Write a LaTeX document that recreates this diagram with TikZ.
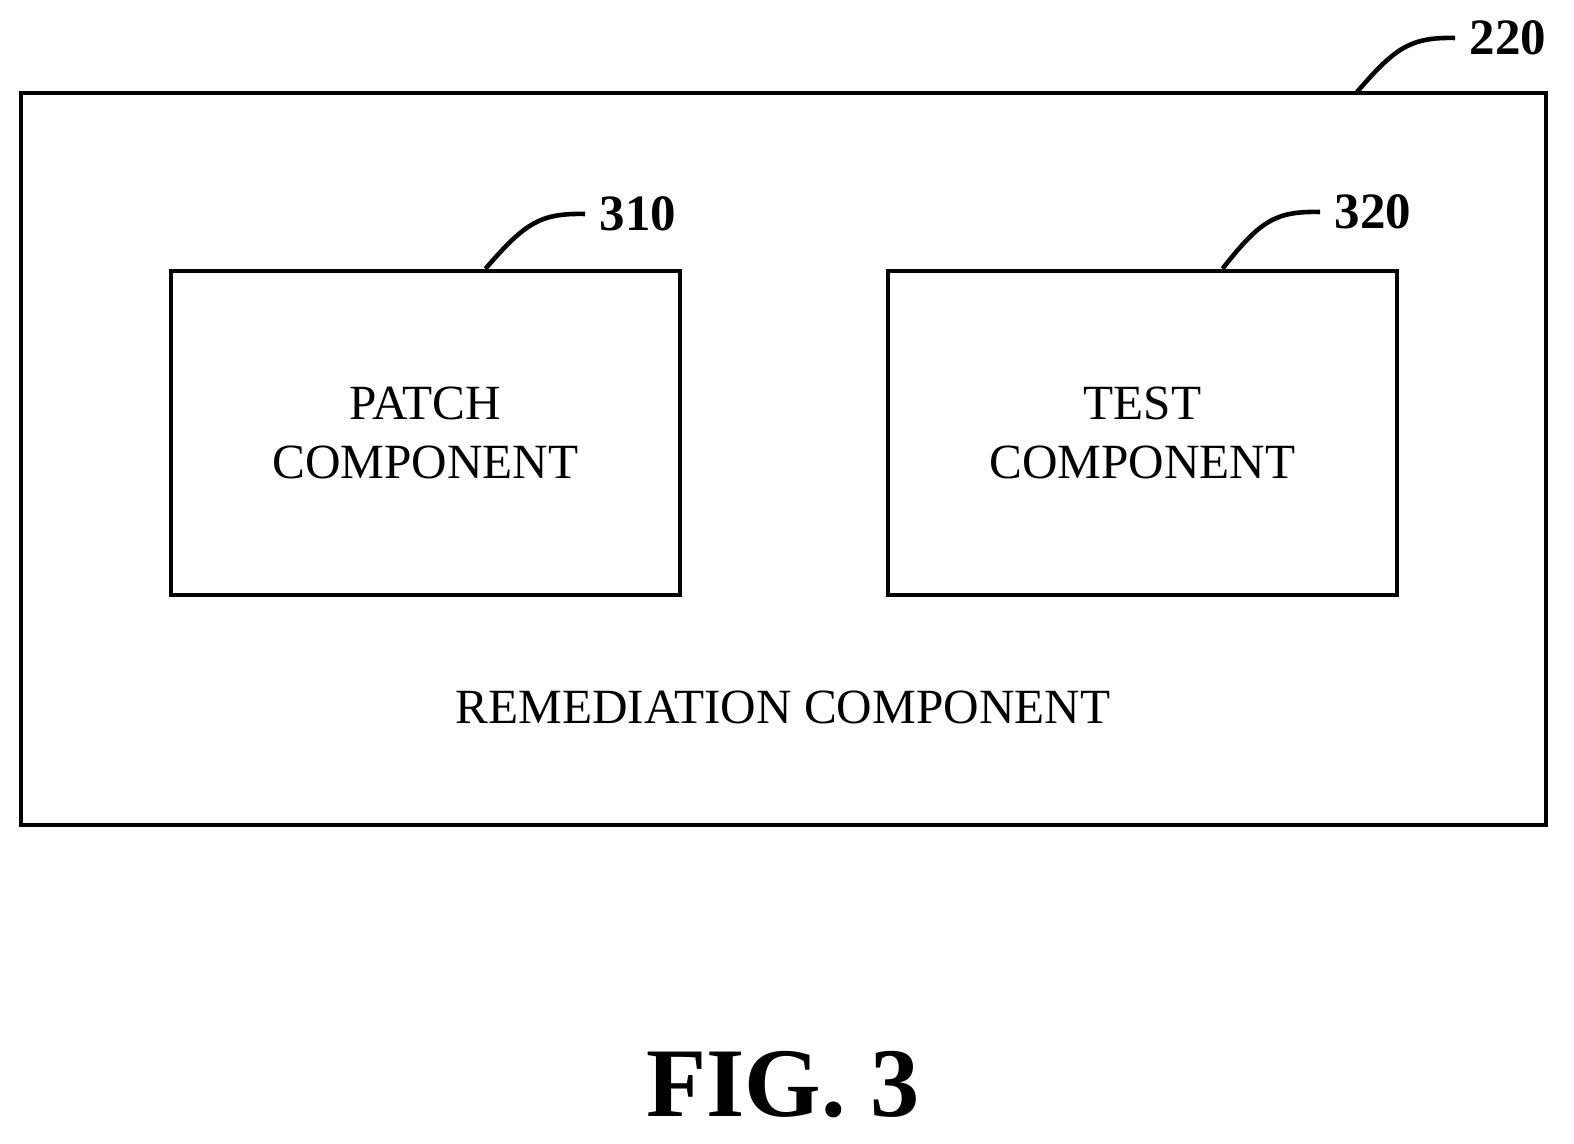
\documentclass[tikz,border=0pt]{standalone}
\usepackage{fontspec}
\setmainfont{Liberation Serif}
\usetikzlibrary{positioning}
\tikzset{
    box/.style={draw=black, line width=1.3pt, minimum width=5.09cm, minimum height=3.24cm,
        align=center, font=\fontsize{14}{17}\selectfont},
    refnum/.style={font=\bfseries\fontsize{14.5}{17}\selectfont, anchor=west, inner sep=4pt},
    leader/.style={line width=1.3pt}
}
\begin{document}
\begin{tikzpicture}[x=1cm,y=1cm]
\useasboundingbox (0,0) rectangle (15.74,11.43);
% outer remediation box
\draw [line width=1.3pt] (0.21,3.18) rectangle (15.46,10.50);
\node (remed) [font=\fontsize{14}{17}\selectfont] at (7.83,4.36) {REMEDIATION COMPONENT};

% inner boxes
\node (patch) [box] at (4.255,7.10) {PATCH\\COMPONENT};
\node (test) [box] at (11.425,7.10) {TEST\\COMPONENT};

% reference numerals
\coordinate (c220) at (13.57,10.51);
\node (n220) [refnum] at (14.55,11.05) {220};
\draw [leader] (c220) .. controls (13.95,10.95) and (14.10,11.06) .. (n220.west);

\node (n310) [refnum] at (5.85,9.29) {310};
\draw [leader] (patch.north) ++(0.60,0) coordinate (c310)
   .. controls (5.25,9.20) and (5.40,9.30) .. (n310.west);

\node (n320) [refnum] at (13.20,9.31) {320};
\draw [leader] (test.north) ++(0.80,0) coordinate (c320)
   .. controls (12.60,9.22) and (12.75,9.32) .. (n320.west);

% figure label
\node (fig) [font=\bfseries\fontsize{28}{32}\selectfont] at (7.83,0.58) {FIG. 3};
\end{tikzpicture}
\end{document}
